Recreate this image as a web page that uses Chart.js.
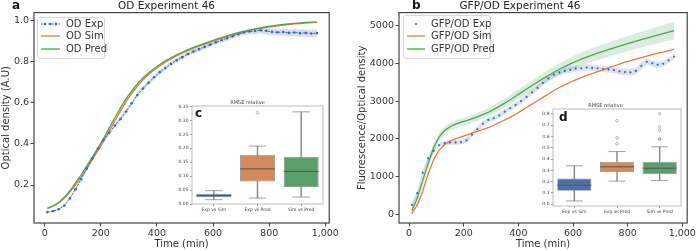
<!DOCTYPE html>
<html>
<head>
<meta charset="utf-8">
<script src="https://cdn.jsdelivr.net/npm/chart.js@4.4.0/dist/chart.umd.min.js"></script>
<style>
  body { margin: 0; background: #fff; font-family: "DejaVu Sans", sans-serif; }
  #wrap { position: relative; width: 697px; height: 251px; overflow: hidden; }
  canvas { position: absolute; }
  .lg { position: absolute; border: 1px solid #d8d8d8; border-radius: 3px; background: rgba(255,255,255,0.85); }
  .row { position: absolute; font-size: 10px; color: #333; line-height: 12px; white-space: nowrap; }
  .row svg { position: absolute; top: 0; }
  .letter { position: absolute; font-weight: bold; color: #111; line-height: 12px; }
</style>
</head>
<body>
<div id="wrap">
  <canvas id="odChart" width="340" height="251" style="left:0;top:0"></canvas>
  <canvas id="gfpChart" width="347" height="251" style="left:350px;top:0"></canvas>
  <canvas id="odBox" width="156" height="116" style="left:172px;top:100px"></canvas>
  <canvas id="gfpBox" width="156" height="114" style="left:530px;top:102px"></canvas>

  <div class="letter" style="left:12px;top:-1px;font-size:12px">a</div>
  <div class="letter" style="left:412px;top:-1px;font-size:12px">b</div>
  <div class="letter" style="left:195px;top:107px;font-size:12px">c</div>
  <div class="letter" style="left:559px;top:111px;font-size:12px">d</div>

  <div class="lg" style="left:37px;top:17px;width:66px;height:40px"></div>
  <div class="row" style="left:41px;top:18px"><svg width="20" height="12"><line x1="0" y1="6" x2="19" y2="6" stroke="#3d64c8" stroke-width="1" stroke-dasharray="2,1.5"/><circle cx="4" cy="6" r="1.2" fill="#3d64c8"/><circle cx="9.5" cy="6" r="1.2" fill="#3d64c8"/><circle cx="15" cy="6" r="1.2" fill="#3d64c8"/></svg><span style="margin-left:25px">OD Exp</span></div>
  <div class="row" style="left:41px;top:30px"><svg width="20" height="12"><line x1="0" y1="6" x2="19" y2="6" stroke="#ec7a35" stroke-width="1.3"/></svg><span style="margin-left:25px">OD Sim</span></div>
  <div class="row" style="left:41px;top:43px"><svg width="20" height="12"><line x1="0" y1="6" x2="19" y2="6" stroke="#4ea551" stroke-width="1.3"/></svg><span style="margin-left:25px">OD Pred</span></div>

  <div class="lg" style="left:403px;top:15px;width:86px;height:42px"></div>
  <div class="row" style="left:407px;top:18px"><svg width="20" height="12"><circle cx="9" cy="6" r="1.1" fill="#3d64c8"/></svg><span style="margin-left:24px">GFP/OD Exp</span></div>
  <div class="row" style="left:407px;top:30px"><svg width="20" height="12"><line x1="0" y1="6" x2="18" y2="6" stroke="#ec7a35" stroke-width="1.3"/></svg><span style="margin-left:24px">GFP/OD Sim</span></div>
  <div class="row" style="left:407px;top:43px"><svg width="20" height="12"><line x1="0" y1="6" x2="18" y2="6" stroke="#4ea551" stroke-width="1.3"/></svg><span style="margin-left:24px">GFP/OD Pred</span></div>
</div>

<script>
const time = [10,30,50,70,90,110,130,150,170,190,210,230,250,270,290,310,330,350,370,390,
  410,430,450,470,490,510,530,550,570,590,610,630,650,670,690,710,730,750,770,790,
  810,830,850,870,890,910,930,950,970];

const odExp = [0.068,0.073,0.082,0.100,0.135,0.180,0.228,0.280,0.330,0.378,
  0.420,0.455,0.490,0.522,0.558,0.598,0.638,0.670,0.698,0.725,
  0.750,0.770,0.790,0.808,0.823,0.838,0.850,0.862,0.873,0.884,
  0.895,0.905,0.915,0.925,0.935,0.943,0.948,0.950,0.954,0.951,
  0.946,0.944,0.945,0.941,0.943,0.940,0.941,0.938,0.940];
const odExpSd = [0.004,0.004,0.005,0.006,0.007,0.008,0.009,0.010,0.010,0.011,
  0.011,0.012,0.012,0.012,0.012,0.012,0.012,0.012,0.011,0.011,
  0.011,0.011,0.011,0.011,0.011,0.011,0.011,0.011,0.012,0.012,
  0.012,0.012,0.013,0.013,0.013,0.014,0.014,0.015,0.015,0.016,
  0.016,0.016,0.017,0.017,0.017,0.018,0.018,0.019,0.019];
const odSim = [0.086,0.097,0.113,0.136,0.166,0.201,0.240,0.281,0.324,0.367,
  0.414,0.464,0.512,0.560,0.606,0.646,0.681,0.712,0.738,0.760,
  0.780,0.798,0.814,0.829,0.842,0.855,0.866,0.876,0.886,0.896,
  0.905,0.914,0.923,0.931,0.938,0.945,0.952,0.958,0.963,0.968,
  0.972,0.976,0.979,0.982,0.985,0.987,0.989,0.991,0.992];
const odPred = [0.086,0.098,0.115,0.140,0.172,0.210,0.250,0.293,0.337,0.380,
  0.428,0.478,0.528,0.576,0.620,0.658,0.692,0.721,0.746,0.768,
  0.787,0.805,0.820,0.834,0.847,0.860,0.871,0.880,0.890,0.900,
  0.909,0.918,0.927,0.935,0.942,0.948,0.955,0.961,0.966,0.971,
  0.975,0.979,0.982,0.985,0.988,0.990,0.992,0.994,0.995];

const gfpExp = [250,560,1100,1480,1680,1830,1890,1900,1905,1915,
  1960,2110,2260,2400,2500,2550,2620,2720,2810,2900,
  3000,3110,3230,3350,3480,3600,3700,3760,3800,3830,
  3860,3870,3890,3880,3870,3850,3840,3820,3790,3770,
  3760,3800,3930,4040,4000,3960,3990,4080,4180];
const gfpExpSd = [60,70,80,80,70,60,60,60,60,60,
  70,70,70,70,70,70,70,70,70,70,
  70,70,70,70,70,70,70,70,70,80,
  80,80,80,80,80,80,80,80,90,90,
  90,90,90,80,80,80,80,70,60];
const gfpSim = [20,250,620,1080,1450,1700,1850,1940,2000,2050,
  2100,2150,2200,2250,2300,2360,2430,2500,2570,2650,
  2740,2830,2920,3010,3100,3190,3280,3360,3430,3500,
  3560,3620,3680,3730,3780,3830,3880,3930,3980,4030,
  4070,4110,4150,4190,4230,4270,4300,4340,4380];
const gfpPred = [100,430,900,1350,1780,2050,2220,2320,2390,2440,
  2480,2530,2580,2640,2705,2780,2860,2945,3035,3130,
  3225,3320,3415,3505,3595,3680,3765,3845,3915,3985,
  4050,4110,4165,4220,4270,4320,4365,4410,4455,4500,
  4545,4590,4630,4670,4710,4750,4790,4830,4870];
const gfpPredSd = [150,150,140,130,120,110,100,100,100,100,
  100,100,110,110,110,120,120,120,130,130,
  130,140,140,140,150,150,160,160,160,170,
  170,170,180,180,180,190,190,190,200,200,
  200,210,210,210,220,220,220,230,230];

const timeTicks = [0, 200, 400, 600, 800, 1000];
const odTicks = [0.2, 0.4, 0.6, 0.8, 1.0];
const gfpTicks = [0, 1000, 2000, 3000, 4000, 5000];

// box plot stats: [whisker low, q1, median, q3, whisker high]
const pairs = ['Exp vs Sim', 'Exp vs Pred', 'Sim vs Pred'];
const odRmse = [[0.0155, 0.024, 0.030, 0.037, 0.048],
                [0.0215, 0.081, 0.126, 0.177, 0.208],
                [0.025, 0.061, 0.117, 0.170, 0.331]];
const odOutliers = [{x: 'Exp vs Pred', y: 0.328}];
const odBoxTicks = [0, 0.05, 0.10, 0.15, 0.20, 0.25, 0.30, 0.35];
const gfpRmse = [[0.03, 0.12, 0.168, 0.229, 0.34],
                 [0.205, 0.286, 0.331, 0.376, 0.466],
                 [0.21, 0.265, 0.319, 0.376, 0.508]];
const gfpOutliers = [{x: 'Exp vs Pred', y: 0.535}, {x: 'Exp vs Pred', y: 0.586}, {x: 'Exp vs Pred', y: 0.74},
  {x: 'Sim vs Pred', y: 0.574}, {x: 'Sim vs Pred', y: 0.58}, {x: 'Sim vs Pred', y: 0.656},
  {x: 'Sim vs Pred', y: 0.686}, {x: 'Sim vs Pred', y: 0.80}];
const gfpBoxTicks = [0, 0.1, 0.2, 0.3, 0.4, 0.5, 0.6, 0.7, 0.8];

const FONT = 'DejaVu Sans';
const BLUE = '#3d64c8', ORANGE = '#ec7a35', GREEN = '#4ea551';
const boxColors = ['#4f6fa8', '#d48a5f', '#5a9e6a'];

function frame(color, width) {
  return {
    id: 'frame',
    afterDatasetsDraw(chart) {
      const a = chart.chartArea, c = chart.ctx;
      c.save();
      c.strokeStyle = color;
      c.lineWidth = width;
      c.strokeRect(a.left, a.top, a.right - a.left, a.bottom - a.top);
      c.restore();
    }
  };
}

function band(values, spread, sign, fill, color) {
  return {
    data: values.map((v, i) => v + sign * spread[i]),
    borderWidth: 0, pointRadius: 0, fill: fill, backgroundColor: color, order: 8
  };
}

function mainChart(id, o) {
  return new Chart(document.getElementById(id), {
    type: 'line',
    data: { labels: time, datasets: o.datasets },
    options: {
      responsive: false,
      animation: false,
      layout: { padding: { left: 0, right: 7, top: 0, bottom: 0 } },
      plugins: {
        legend: { display: false },
        tooltip: { enabled: false },
        title: { display: true, text: o.title, color: '#222', font: { family: FONT, size: 10.5, weight: 'normal' }, padding: { top: 0, bottom: 0 } }
      },
      scales: {
        x: {
          type: 'linear', min: o.xMin, max: o.xMax,
          afterBuildTicks: s => { s.ticks = timeTicks.map(v => ({ value: v })); },
          afterFit: s => { s.height = 28; },
          ticks: { color: '#333', font: { family: FONT, size: 9.5 }, padding: 1, maxRotation: 0 },
          grid: { drawOnChartArea: false, tickLength: 3.5, color: '#444' },
          border: { display: false },
          title: { display: true, text: 'Time (min)', color: '#333', font: { family: FONT, size: 10 }, padding: { top: 0, bottom: 1 } }
        },
        y: {
          min: o.yMin, max: o.yMax,
          afterBuildTicks: s => { s.ticks = o.yTicks.map(v => ({ value: v })); },
          afterFit: s => { s.width = o.yWidth; },
          ticks: { color: '#333', font: { family: FONT, size: 9.5 }, padding: 1.5, callback: o.fmt },
          grid: { drawOnChartArea: false, tickLength: 3.5, color: '#444' },
          border: { display: false },
          title: { display: true, text: o.yTitle, color: '#333', font: { family: FONT, size: 10 }, padding: { top: o.yTitlePad, bottom: 0 } }
        }
      }
    },
    plugins: [frame('#444', 1.2)]
  });
}

mainChart('odChart', {
  title: 'OD Experiment 46', yTitle: 'Optical density (A.U)',
  xMin: -38, xMax: 1014, yMin: 0.015, yMax: 1.04, yTicks: odTicks, yWidth: 34, yTitlePad: 0,
  fmt: v => v.toFixed(1),
  datasets: [
    { label: 'OD Exp', data: odExp, borderColor: BLUE, borderWidth: 1, borderDash: [2, 1.5],
      pointRadius: 1.3, pointBackgroundColor: BLUE, pointBorderWidth: 0, order: 0 },
    { label: 'OD Sim', data: odSim, borderColor: ORANGE, borderWidth: 1.3, pointRadius: 0, order: 2 },
    { label: 'OD Pred', data: odPred, borderColor: GREEN, borderWidth: 1.3, pointRadius: 0, order: 1 },
    band(odExp, odExpSd, -1, false, 'transparent'),
    band(odExp, odExpSd, 1, '-1', 'rgba(76,114,176,0.22)')
  ]
});

mainChart('gfpChart', {
  title: 'GFP/OD Experiment 46', yTitle: 'Fluorescence/Optical density',
  xMin: -37, xMax: 1018, yMin: -230, yMax: 5345, yTicks: gfpTicks, yWidth: 49, yTitlePad: 6,
  fmt: v => String(v),
  datasets: [
    { label: 'GFP/OD Exp', data: gfpExp, showLine: false, pointRadius: 1.1, pointBackgroundColor: BLUE, pointBorderWidth: 0, order: 0 },
    { label: 'GFP/OD Sim', data: gfpSim, borderColor: ORANGE, borderWidth: 1.3, pointRadius: 0, order: 2 },
    { label: 'GFP/OD Pred', data: gfpPred, borderColor: GREEN, borderWidth: 1.3, pointRadius: 0, order: 1 },
    band(gfpExp, gfpExpSd, -1, false, 'transparent'),
    band(gfpExp, gfpExpSd, 1, '-1', 'rgba(76,114,176,0.2)'),
    band(gfpPred, gfpPredSd, -1, false, 'transparent'),
    band(gfpPred, gfpPredSd, 1, '-1', 'rgba(85,168,104,0.22)')
  ]
});

function boxChart(id, o) {
  const halfBox = ctx => ctx.chart.scales.x ? ctx.chart.scales.x.width / pairs.length * 0.8 / 2 : 10;
  const caps = [];
  o.stats.forEach((s, i) => { caps.push({ x: pairs[i], y: s[0] }, { x: pairs[i], y: s[4] }); });
  return new Chart(document.getElementById(id), {
    type: 'bar',
    data: {
      labels: pairs,
      datasets: [
        { type: 'line', data: o.stats.map(s => s[2]), showLine: false, pointStyle: 'line',
          pointRadius: halfBox, pointBorderColor: '#555', pointBorderWidth: 1, order: 0 },
        { type: 'line', data: caps, showLine: false, pointStyle: 'line',
          pointRadius: ctx => halfBox(ctx) / 2, pointBorderColor: '#8a8a8a', pointBorderWidth: 0.8, order: 0 },
        { type: 'line', data: o.outliers, showLine: false, pointStyle: 'circle', pointRadius: 1.3,
          pointBorderColor: '#8a8a8a', pointBackgroundColor: 'rgba(255,255,255,0)', pointBorderWidth: 0.6, order: 0 },
        { data: o.stats.map(s => [s[1], s[3]]), backgroundColor: boxColors, borderColor: '#888',
          borderWidth: 0.8, borderSkipped: false, barPercentage: 0.8, categoryPercentage: 1, grouped: false, order: 1 },
        { data: o.stats.map(s => [s[0], s[4]]), backgroundColor: '#8a8a8a', barThickness: 0.8, grouped: false, order: 2 }
      ]
    },
    options: {
      responsive: false,
      animation: false,
      layout: { padding: { left: 0, right: o.padRight, top: 0, bottom: 0 } },
      plugins: {
        legend: { display: false },
        tooltip: { enabled: false },
        title: { display: true, text: 'RMSE relative', color: '#444', font: { family: FONT, size: 5, weight: 'normal' }, padding: { top: o.titlePad, bottom: 0 } }
      },
      scales: {
        x: {
          afterFit: s => { s.height = o.xHeight; },
          ticks: { color: '#444', font: { family: FONT, size: 4.5 }, padding: 1, maxRotation: 0 },
          grid: { drawOnChartArea: false, offset: false, tickLength: 2, color: '#999' },
          border: { display: false }
        },
        y: {
          min: o.yMin, max: o.yMax,
          afterBuildTicks: s => { s.ticks = o.yTicks.map(v => ({ value: v })); },
          afterFit: s => { s.width = o.yWidth; },
          ticks: { color: '#444', font: { family: FONT, size: 4.5 }, padding: 1.5, callback: v => v.toFixed(o.dec) },
          grid: { drawOnChartArea: false, tickLength: 2, color: '#999' },
          border: { display: false }
        }
      }
    },
    plugins: [frame('#b5b5b5', 0.9)]
  });
}

boxChart('odBox', {
  stats: odRmse, outliers: odOutliers, yMin: 0, yMax: 0.352, yTicks: odBoxTicks, dec: 2,
  yWidth: 20, padRight: 5, xHeight: 12, titlePad: 0
});

boxChart('gfpBox', {
  stats: gfpRmse, outliers: gfpOutliers, yMin: -0.015, yMax: 0.842, yTicks: gfpBoxTicks, dec: 1,
  yWidth: 23, padRight: 5, xHeight: 10, titlePad: 1
});
</script>
</body>
</html>
